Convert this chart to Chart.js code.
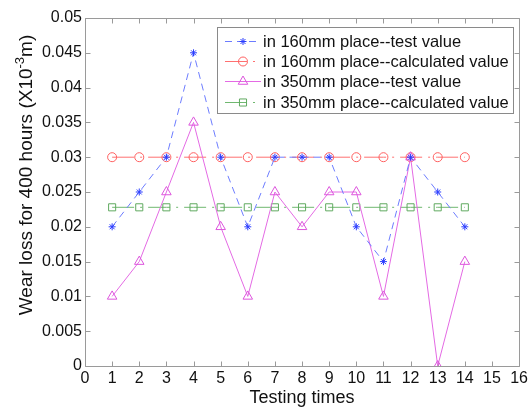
<!DOCTYPE html>
<html>
<head>
<meta charset="utf-8">
<script src="https://cdn.jsdelivr.net/npm/chart.js@4"></script>
<style>
  html, body { margin: 0; padding: 0; background: #fff; }
  #wrap { position: relative; width: 531px; height: 407px; }
</style>
</head>
<body>
<div id="wrap"><canvas id="c" width="531" height="407"></canvas></div>
<script>
// ---- data ----
const testTimes = [1, 2, 3, 4, 5, 6, 7, 8, 9, 10, 11, 12, 13, 14];
const test160 = [0.02, 0.025, 0.03, 0.045, 0.03, 0.02, 0.03, 0.03, 0.03, 0.02, 0.015, 0.03, 0.025, 0.02];
const calc160 = [0.03, 0.03, 0.03, 0.03, 0.03, 0.03, 0.03, 0.03, 0.03, 0.03, 0.03, 0.03, 0.03, 0.03];
const test350 = [0.01, 0.015, 0.025, 0.035, 0.02, 0.01, 0.025, 0.02, 0.025, 0.025, 0.01, 0.03, 0, 0.015];
const calc350 = [0.0228, 0.0228, 0.0228, 0.0228, 0.0228, 0.0228, 0.0228, 0.0228, 0.0228, 0.0228, 0.0228, 0.0228, 0.0228, 0.0228];
const seriesNames = [
  'in 160mm place--test value',
  'in 160mm place--calculated value',
  'in 350mm place--test value',
  'in 350mm place--calculated value'
];
const xTicks = [0, 1, 2, 3, 4, 5, 6, 7, 8, 9, 10, 11, 12, 13, 14, 15, 16];
const yTicks = [0, 0.005, 0.01, 0.015, 0.02, 0.025, 0.03, 0.035, 0.04, 0.045, 0.05];
const yTickLabels = ['0', '0.005', '0.01', '0.015', '0.02', '0.025', '0.03', '0.035', '0.04', '0.045', '0.05'];
const xTitle = 'Testing times';
const yTitleParts = ['Wear loss for 400 hours (X10', '-3', 'm)'];

const FONT = '"Liberation Sans", Arial, sans-serif';
const toPts = (ys) => testTimes.map((x, i) => ({ x: x, y: ys[i] }));

const datasets = [
  { label: seriesNames[0], data: toPts(test160), borderColor: '#6c7cff', pointBorderColor: '#2a3cff', pointBackgroundColor: '#2a3cff',
    borderDash: [7, 5], pointStyle: 'star', pointRadius: 3.5, order: 0 },
  { label: seriesNames[1], data: toPts(calc160), borderColor: '#ff7070', pointBorderColor: '#ff6060', pointBackgroundColor: 'rgba(0,0,0,0)',
    borderDash: [22, 6, 2, 6], pointStyle: 'circle', pointRadius: 4.5, order: 3 },
  { label: seriesNames[2], data: toPts(test350), borderColor: '#e46ae4', pointBorderColor: '#dd55dd', pointBackgroundColor: 'rgba(0,0,0,0)',
    borderDash: [], pointStyle: 'triangle', pointRadius: 5.5, order: 1 },
  { label: seriesNames[3], data: toPts(calc350), borderColor: '#70b870', pointBorderColor: '#60aa60', pointBackgroundColor: 'rgba(0,0,0,0)',
    borderDash: [22, 6, 2, 6], pointStyle: 'rect', pointRadius: 5, order: 2 }
];
datasets.forEach(d => { d.borderWidth = 1; d.pointBorderWidth = 1; d.tension = 0; d.fill = false; d.pointHoverRadius = d.pointRadius; });

const AXIS_COLOR = '#9a9a9a';

const frameAndTicks = {
  id: 'frameAndTicks',
  beforeDatasetsDraw(chart) {
    const { ctx, chartArea: a, scales } = chart;
    ctx.save();
    ctx.strokeStyle = AXIS_COLOR;
    ctx.lineWidth = 1;
    const L = Math.round(a.left) + 0.5, R = Math.round(a.right) + 0.5;
    const T = Math.round(a.top) + 0.5, B = Math.round(a.bottom) + 0.5;
    ctx.beginPath();
    ctx.rect(L, T, R - L, B - T);
    ctx.stroke();
    const tl = 5;
    ctx.beginPath();
    xTicks.forEach(v => {
      const px = Math.round(scales.x.getPixelForValue(v)) + 0.5;
      ctx.moveTo(px, B); ctx.lineTo(px, B - tl);
      ctx.moveTo(px, T); ctx.lineTo(px, T + tl);
    });
    yTicks.forEach(v => {
      const py = Math.round(scales.y.getPixelForValue(v)) + 0.5;
      ctx.moveTo(L, py); ctx.lineTo(L + tl, py);
      ctx.moveTo(R, py); ctx.lineTo(R - tl, py);
    });
    ctx.stroke();
    ctx.restore();
  }
};

// y-axis title with a real superscript, drawn rotated
const yTitlePlugin = {
  id: 'yTitlePlugin',
  afterDraw(chart) {
    const { ctx } = chart;
    ctx.save();
    const big = '19px ' + FONT, small = '13px ' + FONT;
    ctx.font = big;
    const w0 = ctx.measureText(yTitleParts[0]).width;
    const w2 = ctx.measureText(yTitleParts[2]).width;
    ctx.font = small;
    const w1 = ctx.measureText(yTitleParts[1]).width;
    const total = w0 + w1 + w2;
    const cx = 25, cy = 175;
    ctx.translate(cx, cy);
    ctx.rotate(-Math.PI / 2);
    ctx.fillStyle = '#111';
    ctx.textBaseline = 'alphabetic';
    ctx.textAlign = 'left';
    let x = -total / 2;
    const base = 7;
    ctx.font = big; ctx.fillText(yTitleParts[0], x, base); x += w0;
    ctx.font = small; ctx.fillText(yTitleParts[1], x, base - 8); x += w1;
    ctx.font = big; ctx.fillText(yTitleParts[2], x, base);
    ctx.restore();
  }
};

const customLegend = {
  id: 'customLegend',
  afterDraw(chart) {
    const { ctx } = chart;
    const bx = 217.5, by = 27.5, bw = 296, bh = 86;
    ctx.save();
    ctx.fillStyle = '#fff';
    ctx.fillRect(bx, by, bw, bh);
    ctx.strokeStyle = '#8a8a8a';
    ctx.lineWidth = 1;
    ctx.strokeRect(bx, by, bw, bh);
    const rowY = [41, 61, 81, 102];
    chart.data.datasets.forEach((d, i) => {
      const y = rowY[i] + 0.5;
      ctx.strokeStyle = d.borderColor;
      ctx.lineWidth = 1;
      ctx.setLineDash(d.borderDash || []);
      ctx.beginPath();
      ctx.moveTo(225, y); ctx.lineTo(261, y);
      ctx.stroke();
      ctx.setLineDash([]);
      ctx.strokeStyle = d.pointBorderColor;
      ctx.fillStyle = d.pointBackgroundColor;
      Chart.helpers.drawPoint(ctx, { pointStyle: d.pointStyle, radius: d.pointRadius, borderWidth: 1, rotation: 0 }, 243, y);
      ctx.fillStyle = '#111';
      ctx.font = '16.5px ' + FONT;
      ctx.textBaseline = 'middle';
      ctx.textAlign = 'left';
      ctx.fillText(d.label, 263, rowY[i] + 1);
    });
    ctx.restore();
  }
};

new Chart(document.getElementById('c'), {
  type: 'line',
  data: { datasets: datasets },
  options: {
    responsive: false,
    animation: false,
    devicePixelRatio: 1,
    layout: { padding: { top: 18, right: 9, left: 0, bottom: 0 } },
    plugins: { legend: { display: false }, tooltip: { enabled: false } },
    scales: {
      x: {
        type: 'linear', min: 0, max: 16,
        afterBuildTicks: (s) => { s.ticks = xTicks.map(v => ({ value: v })); },
        afterFit: (s) => { s.height = 41; },
        grid: { display: false, drawTicks: false },
        border: { display: false },
        ticks: { color: '#111', padding: 3, maxRotation: 0, autoSkip: false, font: { family: FONT, size: 16 },
                 callback: (v) => String(v) },
        title: { display: true, text: xTitle, color: '#111', font: { family: FONT, size: 18 }, padding: { top: 0, bottom: -2 } }
      },
      y: {
        type: 'linear', min: 0, max: 0.05,
        afterBuildTicks: (s) => { s.ticks = yTicks.map(v => ({ value: v })); },
        afterFit: (s) => { s.width = 85; },
        grid: { display: false, drawTicks: false },
        border: { display: false },
        ticks: { color: '#111', padding: 3, autoSkip: false, font: { family: FONT, size: 16 },
                 callback: (v) => { const i = yTicks.indexOf(v); return i >= 0 ? yTickLabels[i] : ''; } },
        title: { display: false }
      }
    }
  },
  plugins: [frameAndTicks, yTitlePlugin, customLegend]
});
</script>
</body>
</html>
